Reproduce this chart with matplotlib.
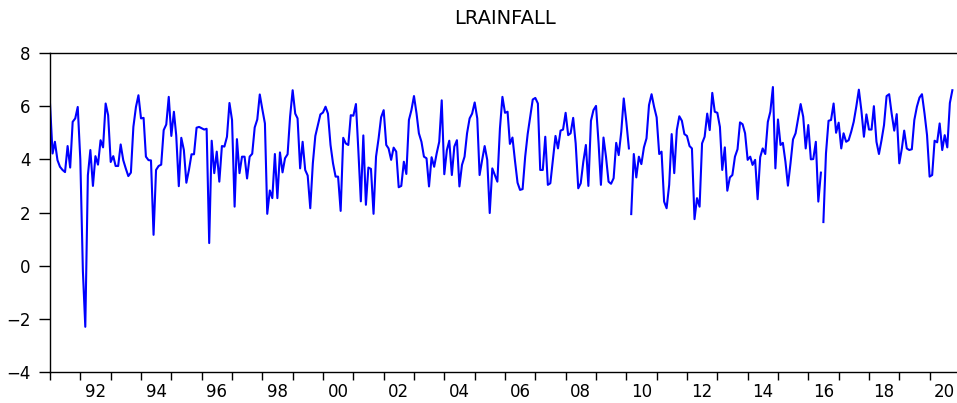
import datetime as dt

import numpy as np
import pandas as pd
import matplotlib
matplotlib.use('Agg')
import matplotlib.pyplot as plt
import matplotlib.dates as mdates
from matplotlib.ticker import FixedLocator, NullFormatter


TITLE = 'LRAINFALL'
START = '1991-01-01'

# monthly log rainfall (Jan 1991 onwards)
rain = [
    6.10, 4.22, 4.66, 3.97, 3.72, 3.60, 3.52, 4.50, 3.69, 5.41, 5.54, 5.97,
    4.00, -0.20, -2.30, 3.40, 4.35, 3.00, 4.12, 3.80, 4.72, 4.45, 6.10, 5.66,
    3.90, 4.12, 3.75, 3.75, 4.56, 3.97, 3.66, 3.37, 3.50, 5.22, 5.97, 6.41,
    5.54, 5.56, 4.10, 3.97, 3.96, 1.16, 3.60, 3.75, 3.80, 5.10, 5.31, 6.35,
    4.88, 5.79, 4.90, 2.99, 4.81, 4.35, 3.12, 3.60, 4.19, 4.19, 5.19, 5.22,
    5.17, 5.12, 5.15, 0.85, 4.70, 3.48, 4.29, 3.16, 4.50, 4.48, 4.85, 6.12,
    5.48, 2.22, 4.76, 3.48, 4.10, 4.10, 3.28, 4.10, 4.21, 5.20, 5.50, 6.44,
    5.88, 5.35, 1.95, 2.83, 2.54, 4.20, 2.54, 4.26, 3.51, 4.04, 4.19, 5.60,
    6.60, 5.72, 5.54, 3.66, 4.66, 3.60, 3.39, 2.16, 3.85, 4.88, 5.29, 5.69,
    5.76, 5.98, 5.72, 4.54, 3.85, 3.35, 3.35, 2.06, 4.81, 4.60, 4.54, 5.66,
    5.64, 6.08, 4.40, 2.42, 4.90, 2.29, 3.69, 3.64, 1.95, 4.10, 4.79, 5.58,
    5.85, 4.54, 4.41, 3.98, 4.44, 4.29, 2.95, 3.00, 3.91, 3.45, 5.48, 5.85,
    6.38, 5.72, 4.98, 4.66, 4.10, 4.04, 2.98, 4.08, 3.72, 4.22, 4.66, 6.22,
    3.44, 4.35, 4.70, 3.41, 4.48, 4.72, 2.98, 3.79, 4.10, 4.98, 5.54, 5.72,
    6.14, 5.54, 3.41, 3.98, 4.50, 3.98, 1.98, 3.66, 3.41, 3.16, 5.16, 6.35,
    5.75, 5.79, 4.58, 4.82, 3.95, 3.12, 2.85, 2.88, 4.10, 4.95, 5.60, 6.25,
    6.31, 6.10, 3.60, 3.60, 4.85, 3.04, 3.10, 3.98, 4.88, 4.41, 5.08, 5.12,
    5.75, 4.91, 4.98, 5.56, 4.60, 2.91, 3.10, 3.91, 4.54, 3.00, 5.45, 5.85,
    6.01, 4.60, 3.04, 4.82, 4.10, 3.16, 3.08, 3.29, 4.62, 4.16, 5.04, 6.29,
    5.41, 4.41, 1.94, 4.20, 3.32, 4.10, 3.82, 4.45, 4.79, 6.04, 6.45, 5.98,
    5.58, 4.20, 4.29, 2.41, 2.16, 3.04, 4.95, 3.48, 5.10, 5.62, 5.45, 4.95,
    4.88, 4.50, 4.41, 1.75, 2.54, 2.22, 4.60, 4.85, 5.72, 5.10, 6.50, 5.79,
    5.75, 5.22, 3.60, 4.45, 2.82, 3.32, 3.41, 4.10, 4.38, 5.39, 5.32, 4.98,
    3.98, 4.10, 3.79, 3.98, 2.50, 4.08, 4.41, 4.20, 5.41, 5.79, 6.72, 3.66,
    5.50, 4.54, 4.62, 3.91, 3.01, 3.85, 4.75, 4.98, 5.54, 6.08, 5.60, 4.41,
    5.29, 4.00, 4.01, 4.66, 2.41, 3.50, 1.64, 4.22, 5.45, 5.48, 6.10, 5.00,
    5.38, 4.41, 4.98, 4.66, 4.72, 5.04, 5.41, 5.98, 6.62, 5.85, 4.85, 5.69,
    5.12, 5.12, 6.00, 4.66, 4.20, 4.72, 5.29, 6.38, 6.45, 5.72, 5.08, 5.70,
    3.85, 4.41, 5.08, 4.41, 4.35, 4.38, 5.48, 5.98, 6.32, 6.45, 5.72, 4.91,
    3.35, 3.41, 4.70, 4.64, 5.35, 4.35, 4.91, 4.45, 6.12, 6.60,
]

# the line is broken just before these observations
breaks = [230, 306]

y_ticks = [-4, -2, 0, 2, 4, 6, 8]
label_years = list(range(1992, 2021, 2))


def plot_rainfall():
    dates = pd.date_range(START, periods=len(rain), freq='MS')
    values = np.array(rain)

    fig = plt.figure(figsize=(9.57, 4.03), dpi=100)
    ax = fig.add_axes([50 / 957, 31 / 403, 910 / 957, 319 / 403])

    edges = [0] + breaks + [len(values)]
    for a, b in zip(edges[:-1], edges[1:]):
        ax.plot(dates[a:b], values[a:b], color='#0000ff', linewidth=1.5)

    ax.set_xlim(dt.datetime(1991, 1, 1), dt.datetime(2021, 1, 1))
    ax.set_ylim(-4, 8)

    # year boundaries as ticks, two-digit labels centred on even years
    ax.xaxis.set_major_locator(mdates.YearLocator(1))
    ax.xaxis.set_major_formatter(NullFormatter())
    mid = [mdates.date2num(dt.datetime(y, 7, 1)) for y in label_years]
    ax.xaxis.set_minor_locator(FixedLocator(mid))
    ax.xaxis.set_minor_formatter(mdates.DateFormatter('%y'))
    ax.tick_params(axis='x', which='major', direction='out', length=5.5,
                   width=1, color='black')
    ax.tick_params(axis='x', which='minor', length=0, pad=8,
                   labelsize=12)

    ax.set_yticks(y_ticks)
    ax.tick_params(axis='y', direction='out', length=8, width=1,
                   labelsize=12, pad=6)

    for side in ('left', 'top', 'bottom'):
        ax.spines[side].set_linewidth(1.0)
        ax.spines[side].set_color('black')
    ax.spines['right'].set_visible(False)

    fig.text(505 / 957, 1 - 18 / 403, TITLE, ha='center', va='center',
             fontsize=14)

    fig.savefig('out.png', dpi=100)


if __name__ == '__main__':
    plt.rcParams['font.family'] = 'DejaVu Sans'
    plot_rainfall()
